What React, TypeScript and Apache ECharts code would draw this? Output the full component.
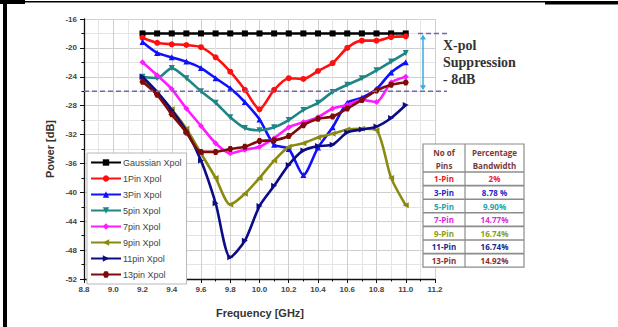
import React, { useEffect, useRef } from "react";
import * as echarts from "echarts";

const freqs = [9.2, 9.3, 9.4, 9.5, 9.6, 9.7, 9.8, 9.9, 10.0, 10.1, 10.2, 10.3, 10.4, 10.5, 10.6, 10.7, 10.8, 10.9, 11.0];

const gaussianXpol = [-18, -18, -18, -18, -18, -18, -18, -18, -18, -18, -18, -18, -18, -18, -18, -18, -18, -18, -18];
const pin1Xpol = [-18.6, -19.3, -19.5, -19.6, -19.9, -21.3, -23.3, -25.8, -28.5, -25.8, -24.2, -24.3, -23.2, -22.1, -20, -19, -19, -18.5, -18.4];
const pin3Xpol = [-19.2, -20.7, -21.3, -21.9, -22.8, -24.2, -25.6, -27.5, -29.9, -33.4, -34, -37.6, -33.8, -31, -27.6, -26.9, -25.7, -23.4, -22];
const pin5Xpol = [-24, -24.2, -22.8, -24.2, -26, -27.6, -29.6, -31.1, -31.4, -31, -30, -28.6, -27.6, -26.1, -25.1, -24.2, -23.1, -21.9, -20.7];
const pin7Xpol = [-22, -23.8, -25.7, -28.4, -30.8, -33.2, -34.6, -34.1, -33.7, -32.5, -31, -30.3, -29.6, -28.4, -27.9, -27.2, -27.5, -24.8, -24];
const pin9Xpol = [-24.3, -26.3, -28.5, -31.2, -34.6, -38, -41.7, -40.2, -38, -35.6, -33.7, -33.2, -32.4, -31.9, -31.3, -31.2, -31.4, -38, -41.8];
const pin11Xpol = [-24, -26.1, -28.6, -31.5, -35.6, -41.5, -49, -46.7, -41.9, -39.1, -36.2, -34.2, -33.6, -33.4, -31.7, -31.3, -30.9, -29.7, -27.9];
const pin13Xpol = [-24.7, -26.5, -29.2, -31.7, -34.4, -34.4, -34, -33.7, -32.9, -32.8, -32.2, -30.7, -29.8, -29.5, -28.4, -27.2, -25.9, -25.1, -24.8];

const seriesNames = ["Gaussian Xpol", "1Pin Xpol", "3Pin Xpol", "5pin Xpol", "7pin Xpol", "9pin Xpol", "11pin Xpol", "13pin Xpol"];
const seriesValues = [gaussianXpol, pin1Xpol, pin3Xpol, pin5Xpol, pin7Xpol, pin9Xpol, pin11Xpol, pin13Xpol];
const seriesColors = ["#000000", "#ff1010", "#1010ff", "#1f8585", "#ff1aff", "#8a8a10", "#0c0c85", "#800a0a"];
const seriesSymbols = [
  "rect",
  "circle",
  "triangle",
  "path://M0,0 L10,0 L5,10 Z",
  "diamond",
  "path://M10,0 L10,10 L0,5 Z",
  "path://M0,0 L0,10 L10,5 Z",
  "path://M2.5,0 L7.5,0 L10,5 L7.5,10 L2.5,10 L0,5 Z",
];

const xMin = 8.8;
const xMax = 11.2;
const xStep = 0.2;
const yMin = -52;
const yMax = -16;
const yStep = 4;

const refLow = -26;
const refHigh = -18;
const annotationLines = ["X-pol", "Suppression", "- 8dB"];

const tableHeader1 = ["No of", "Pins"];
const tableHeader2 = ["Percentage", "Bandwidth"];
const tablePins = ["1-Pin", "3-Pin", "5-Pin", "7-Pin", "9-Pin", "11-Pin", "13-Pin"];
const tableBandwidth = ["2%", "8.78 %", "9.90%", "14.77%", "16.74%", "16.74%", "14.92%"];
const tableColors = ["#e8202a", "#2828c8", "#20a8a8", "#e028e0", "#8c9c20", "#142a8c", "#8a3030"];

export default function App() {
  const ref = useRef<HTMLDivElement>(null);

  useEffect(() => {
    if (!ref.current) return;
    const chart = echarts.init(ref.current, null, { renderer: "svg" });

    const labelStyle = {
      fontFamily: "Liberation Sans, Arial, sans-serif",
      fontWeight: "bold" as const,
      fontSize: 8,
      color: "#444",
    };

    const option: any = {
      animation: false,
      backgroundColor: "#ffffff",
      grid: { left: 84, right: 183, top: 19, bottom: 48, containLabel: false },
      xAxis: {
        type: "value",
        min: xMin,
        max: xMax,
        interval: xStep,
        axisLine: { show: true, onZero: false, lineStyle: { color: "#111", width: 1.3 } },
        axisTick: { show: true, inside: false, length: 4, lineStyle: { color: "#111", width: 1 } },
        minorTick: { show: true, splitNumber: 2, length: 2.5, lineStyle: { color: "#111", width: 1 } },
        splitLine: { show: true, lineStyle: { color: "#cfcfcf", width: 1 } },
        minorSplitLine: { show: true, lineStyle: { color: "#e4e4e4", width: 1 } },
        axisLabel: { ...labelStyle, margin: 6, formatter: (v: number) => v.toFixed(1) },
      },
      yAxis: {
        type: "value",
        min: yMin,
        max: yMax,
        interval: yStep,
        axisLine: { show: true, onZero: false, lineStyle: { color: "#111", width: 1.3 } },
        axisTick: { show: true, inside: false, length: 4, lineStyle: { color: "#111", width: 1 } },
        minorTick: { show: true, splitNumber: 2, length: 2.5, lineStyle: { color: "#111", width: 1 } },
        splitLine: { show: true, lineStyle: { color: "#cfcfcf", width: 1 } },
        minorSplitLine: { show: true, lineStyle: { color: "#e4e4e4", width: 1 } },
        axisLabel: { ...labelStyle, margin: 7 },
      },
      legend: {
        show: true,
        orient: "vertical",
        left: 87,
        top: 153,
        itemWidth: 30,
        itemHeight: 8,
        itemGap: 7,
        padding: [5, 5, 5, 3],
        backgroundColor: "#ffffff",
        borderColor: "#b8b8b8",
        borderWidth: 1,
        borderRadius: 0,
        textStyle: { fontFamily: "Liberation Sans, Arial, sans-serif", fontSize: 9, color: "#444", padding: [0, 0, 0, -3] },
        data: seriesNames,
      },
      series: seriesNames.map((name, k) => ({
        name,
        type: "line",
        data: freqs.map((f, i) => [f, seriesValues[k][i]]),
        smooth: 0.25,
        symbol: seriesSymbols[k],
        symbolSize: 6,
        showSymbol: true,
        lineStyle: { color: seriesColors[k], width: 2.6 },
        itemStyle: { color: seriesColors[k], borderWidth: 0 },
        z: 2 + k,
      })),
    };

    chart.setOption(option);

    const pLeftLow = chart.convertToPixel({ gridIndex: 0 }, [xMin, refLow]) as number[];
    const pHigh = chart.convertToPixel({ gridIndex: 0 }, [xMin, refHigh]) as number[];
    const yLow = pLeftLow[1];
    const yHigh = pHigh[1];
    const dashEnd = 447;
    const arrowX = 423;
    const dashColor = "#7466ad";
    const arrowColor = "#35aee0";

    const graphics: any[] = [];
    // page frame
    graphics.push({ type: "rect", shape: { x: 3, y: 0, width: 4, height: 327 }, style: { fill: "#000" }, z: 100 });
    graphics.push({ type: "rect", shape: { x: 3, y: 1, width: 545, height: 1.5 }, style: { fill: "#000" }, z: 100 });
    graphics.push({ type: "rect", shape: { x: 0, y: 0, width: 25, height: 4 }, style: { fill: "#000" }, z: 100 });
    graphics.push({ type: "rect", shape: { x: 545, y: 1, width: 73, height: 3.5 }, style: { fill: "#000" }, z: 100 });

    // axis titles
    graphics.push({
      type: "text",
      x: 50,
      y: 149,
      rotation: Math.PI / 2,
      style: {
        text: "Power [dB]",
        fontFamily: "Liberation Sans, Arial, sans-serif",
        fontWeight: "bold",
        fontSize: 11,
        fill: "#333",
        align: "center",
        verticalAlign: "middle",
      },
    });
    graphics.push({
      type: "text",
      x: 260,
      y: 313,
      style: {
        text: "Frequency [GHz]",
        fontFamily: "Liberation Sans, Arial, sans-serif",
        fontWeight: "bold",
        fontSize: 11,
        fill: "#333",
        align: "center",
        verticalAlign: "middle",
      },
    });

    // reference dashed lines
    graphics.push({
      type: "line",
      shape: { x1: pLeftLow[0], y1: yLow, x2: dashEnd, y2: yLow },
      style: { stroke: dashColor, lineWidth: 1.6, lineDash: [5, 3] },
      z: 50,
    });
    graphics.push({
      type: "line",
      shape: { x1: 418, y1: yHigh, x2: dashEnd, y2: yHigh },
      style: { stroke: dashColor, lineWidth: 1.6, lineDash: [5, 3] },
      z: 50,
    });
    // double arrow
    graphics.push({
      type: "line",
      shape: { x1: arrowX, y1: yHigh + 3, x2: arrowX, y2: yLow - 3 },
      style: { stroke: arrowColor, lineWidth: 1.5 },
      z: 50,
    });
    graphics.push({
      type: "polygon",
      shape: { points: [[arrowX, yHigh + 1], [arrowX - 3, yHigh + 6], [arrowX + 3, yHigh + 6]] },
      style: { fill: arrowColor },
      z: 50,
    });
    graphics.push({
      type: "polygon",
      shape: { points: [[arrowX, yLow - 1], [arrowX - 3, yLow - 6], [arrowX + 3, yLow - 6]] },
      style: { fill: arrowColor },
      z: 50,
    });

    annotationLines.forEach((t, i) => {
      graphics.push({
        type: "text",
        x: 443,
        y: 45 + i * 17,
        style: {
          text: t,
          fontFamily: "Liberation Serif, DejaVu Serif, serif",
          fontWeight: "bold",
          fontSize: 14,
          fill: "#333",
          align: "left",
          verticalAlign: "middle",
        },
      });
    });

    // table
    const tX = 423;
    const tW = 101;
    const tDiv = 465;
    const tTop = 144;
    const hdrBottom = 172;
    const rowH = 13.6;
    const tBottom = hdrBottom + rowH * tablePins.length;
    graphics.push({
      type: "rect",
      shape: { x: tX, y: tTop, width: tW, height: tBottom - tTop },
      style: { fill: "#fff", stroke: "#8c8c8c", lineWidth: 1.2 },
      z: 60,
    });
    graphics.push({
      type: "line",
      shape: { x1: tDiv, y1: tTop, x2: tDiv, y2: tBottom },
      style: { stroke: "#8c8c8c", lineWidth: 1.2 },
      z: 61,
    });
    for (let i = 0; i < tablePins.length; i++) {
      const yTop = hdrBottom + i * rowH;
      graphics.push({
        type: "line",
        shape: { x1: tX, y1: yTop, x2: tX + tW, y2: yTop },
        style: { stroke: "#8c8c8c", lineWidth: 1.6 },
        z: 61,
      });
      graphics.push({
        type: "text",
        x: (tX + tDiv) / 2,
        y: yTop + rowH / 2,
        style: {
          text: tablePins[i],
          fontFamily: "Open Sans, Liberation Sans, sans-serif",
          fontWeight: "bold",
          fontSize: 8,
          fill: tableColors[i],
          align: "center",
          verticalAlign: "middle",
        },
        z: 62,
      });
      graphics.push({
        type: "text",
        x: (tDiv + tX + tW) / 2,
        y: yTop + rowH / 2,
        style: {
          text: tableBandwidth[i],
          fontFamily: "Open Sans, Liberation Sans, sans-serif",
          fontWeight: "bold",
          fontSize: 8,
          fill: tableColors[i],
          align: "center",
          verticalAlign: "middle",
        },
        z: 62,
      });
    }
    [tableHeader1, tableHeader2].forEach((h, c) => {
      const cx = c === 0 ? (tX + tDiv) / 2 : (tDiv + tX + tW) / 2;
      h.forEach((t, r) => {
        graphics.push({
          type: "text",
          x: cx,
          y: 152 + r * 13,
          style: {
            text: t,
            fontFamily: "Open Sans, Liberation Sans, sans-serif",
            fontWeight: "bold",
            fontSize: 8,
            fill: "#7a3a3a",
            align: "center",
            verticalAlign: "middle",
          },
          z: 62,
        });
      });
    });

    chart.setOption({ graphic: graphics });

    return () => chart.dispose();
  }, []);

  return (
    <div
      ref={ref}
      style={{ position: "absolute", left: 0, top: 0, width: 618, height: 327, background: "#fff" }}
    />
  );
}
